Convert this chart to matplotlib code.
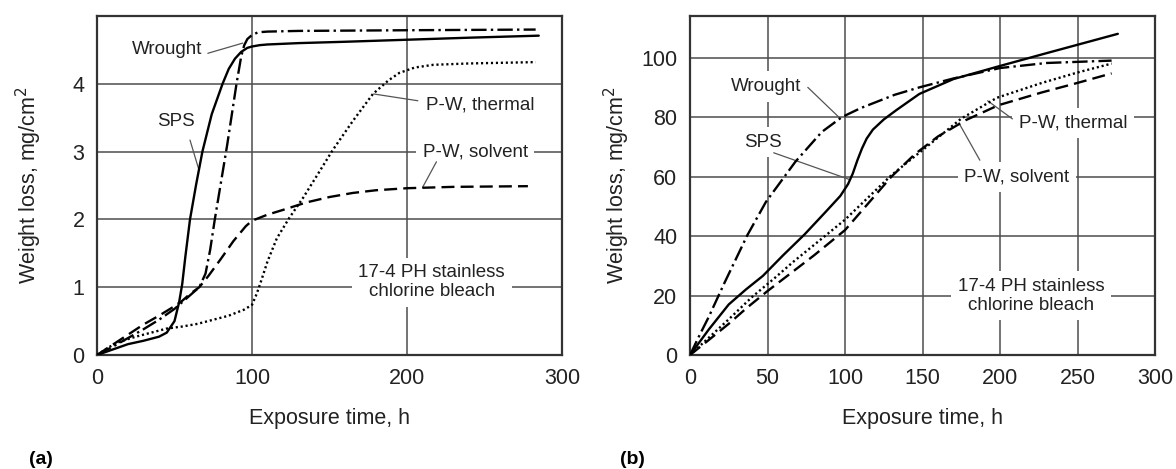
import matplotlib
matplotlib.use('Agg')
import matplotlib.pyplot as plt

plt.rcParams['font.family'] = ['Liberation Sans', 'DejaVu Sans']

# ---- panel (a): weight loss, mg/cm2 vs exposure time, h ----
t_a_sps = [0, 10, 20, 30, 40, 45, 50, 53, 55, 57, 60, 64, 68, 74, 81, 85, 89, 93, 97, 100, 105, 110, 130, 160, 200, 240, 285]
w_a_sps = [0, 0.08, 0.16, 0.21, 0.27, 0.33, 0.5, 0.78, 1.05, 1.45, 2.0, 2.52, 3.0, 3.55, 4.0, 4.22, 4.37, 4.47, 4.53, 4.55, 4.57, 4.58, 4.6, 4.62, 4.65, 4.68, 4.71]

t_a_wrought = [0, 10, 20, 30, 40, 50, 60, 66, 70, 73, 76, 80, 84, 87, 90, 93, 95, 97, 100, 104, 110, 130, 200, 283]
w_a_wrought = [0, 0.12, 0.25, 0.38, 0.52, 0.68, 0.88, 1.0, 1.2, 1.55, 2.0, 2.55, 3.1, 3.55, 4.0, 4.4, 4.57, 4.66, 4.72, 4.76, 4.77, 4.78, 4.79, 4.8]

t_a_solvent = [0, 10, 20, 30, 40, 50, 55, 60, 66, 72, 80, 88, 96, 100, 110, 120, 135, 150, 165, 180, 200, 230, 278]
w_a_solvent = [0, 0.15, 0.3, 0.45, 0.58, 0.72, 0.8, 0.9, 1.0, 1.17, 1.42, 1.68, 1.9, 1.98, 2.07, 2.14, 2.25, 2.33, 2.39, 2.43, 2.46, 2.48, 2.49]

t_a_thermal = [0, 8, 15, 25, 35, 45, 55, 65, 75, 85, 95, 100, 103, 106, 110, 116, 124, 133, 142, 152, 165, 178, 188, 195, 205, 217, 240, 283]
w_a_thermal = [0, 0.12, 0.2, 0.27, 0.33, 0.39, 0.42, 0.46, 0.52, 0.58, 0.67, 0.74, 0.9, 1.1, 1.38, 1.72, 2.02, 2.32, 2.65, 3.02, 3.45, 3.85, 4.05, 4.16, 4.24, 4.28, 4.3, 4.32]

# ---- panel (b) ----
t_b_sps = [0, 12, 25, 36, 47, 60, 74, 88, 97, 102, 105, 108, 111, 114, 118, 125, 133, 148, 170, 200, 230, 276]
w_b_sps = [0, 8.5, 17, 22, 26.6, 33.5, 40.6, 48.4, 53.5, 57.5, 61, 65.5, 69.5, 72.8, 75.8, 79.2, 82.3, 87.8, 92.8, 97.2, 101.5, 108]

t_b_wrought = [0, 6, 12, 22, 37, 49, 68, 85, 98, 110, 132, 148, 170, 200, 230, 272]
w_b_wrought = [0, 6.5, 12.7, 24, 40.3, 51.5, 65, 75, 80, 83, 87.5, 90, 93, 96.5, 98.2, 99]

t_b_thermal = [0, 10, 25, 40, 54, 67, 80, 100, 115, 130, 155, 175, 198, 227, 250, 272]
w_b_thermal = [0, 4.8, 12, 19.5, 25.6, 31.5, 37, 45.5, 53, 60.5, 71, 79.5, 86.5, 91.5, 95, 98]

t_b_solvent = [0, 12, 25, 37, 50, 65, 80, 100, 115, 130, 145, 160, 178, 199, 227, 250, 272]
w_b_solvent = [0, 5, 10.5, 16, 21.5, 27.5, 33.5, 42, 51, 60, 67.5, 73.5, 79, 84, 88.3, 91.5, 94.7]

note = '17-4 PH stainless\nchlorine bleach'

# line styles (dash patterns scale with linewidth)
LW = 1.7
styles = {
    'sps': '-',
    'wrought': (0, (6.5, 1.8, 1.0, 1.8)),
    'solvent': (0, (5.5, 2.6)),
    'thermal': (0, (0.9, 1.2)),
}

fig = plt.figure(figsize=(11.76, 4.69), dpi=100)
ax_a = fig.add_axes([97 / 1176, 1 - 355 / 469, 465 / 1176, 339 / 469])
ax_b = fig.add_axes([690 / 1176, 1 - 355 / 469, 465 / 1176, 339 / 469])

series_a = [(t_a_sps, w_a_sps, 'sps'), (t_a_wrought, w_a_wrought, 'wrought'),
            (t_a_solvent, w_a_solvent, 'solvent'), (t_a_thermal, w_a_thermal, 'thermal')]
series_b = [(t_b_sps, w_b_sps, 'sps'), (t_b_wrought, w_b_wrought, 'wrought'),
            (t_b_solvent, w_b_solvent, 'solvent'), (t_b_thermal, w_b_thermal, 'thermal')]

for ax, series in [(ax_a, series_a), (ax_b, series_b)]:
    for t, w, key in series:
        ax.plot(t, w, color='black', lw=LW, linestyle=styles[key], zorder=3,
                solid_capstyle='round', solid_joinstyle='round', dash_capstyle='butt')
    ax.set_axisbelow(True)
    ax.grid(True, color='#4d4d4d', lw=1.1)
    for sp in ax.spines.values():
        sp.set_color('#333333')
        sp.set_linewidth(1.6)
    ax.tick_params(length=0, pad=9, labelsize=15.5, colors='#222222')
    ax.set_xlim(0, 300)
    ax.set_xlabel('Exposure time, h', fontsize=15.5, color='#222222')
    ax.set_ylabel('Weight loss, mg/cm$^2$', fontsize=15.5, color='#222222')
    ax.xaxis.set_label_coords(0.5, -0.155)

ax_a.set_ylim(0, 5)
ax_a.set_xticks([0, 100, 200, 300])
ax_a.set_yticks([0, 1, 2, 3, 4])
ax_a.yaxis.set_label_coords(-0.113, 0.5)

ax_b.set_ylim(0, 114)
ax_b.set_xticks([0, 50, 100, 150, 200, 250, 300])
ax_b.set_yticks([0, 20, 40, 60, 80, 100])
ax_b.yaxis.set_label_coords(-0.124, 0.5)

box = dict(boxstyle='square,pad=0.35', fc='white', ec='none')
lead = dict(arrowstyle='-', color='#555555', lw=0.9, shrinkA=0, shrinkB=0)
FS = 13.5


def label(ax, text, pos, line=None):
    ax.text(pos[0], pos[1], text, fontsize=FS, ha='center', va='center',
            color='#222222', bbox=box, zorder=2, linespacing=1.15)
    if line is not None:
        ax.annotate('', xy=line[1], xytext=line[0], arrowprops=lead, zorder=2.5)


label(ax_a, 'Wrought', (45, 4.5), [(71.5, 4.45), (94, 4.6)])
label(ax_a, 'SPS', (51, 3.44), [(60, 3.17), (65.5, 2.75)])
label(ax_a, 'P-W, thermal', (247, 3.69), [(207, 3.75), (178.5, 3.85)])
label(ax_a, 'P-W, solvent', (244, 3.0), [(219, 2.85), (210, 2.47)])
label(ax_a, note, (216, 1.07))

label(ax_b, 'Wrought', (49, 90.3), [(76, 90), (96, 80)])
label(ax_b, 'SPS', (47, 71.6), [(54, 68), (103, 59)])
label(ax_b, 'P-W, thermal', (247, 78), [(208, 79.4), (192, 85.5)])
label(ax_b, 'P-W, solvent', (211, 60), [(187, 65.5), (173.5, 78)])
label(ax_b, note, (220, 20))

fig.text(29 / 1176, 1 - 459 / 469, '(a)', fontsize=14, fontweight='bold', va='center')
fig.text(620 / 1176, 1 - 459 / 469, '(b)', fontsize=14, fontweight='bold', va='center')

fig.savefig('out.png', dpi=100)
